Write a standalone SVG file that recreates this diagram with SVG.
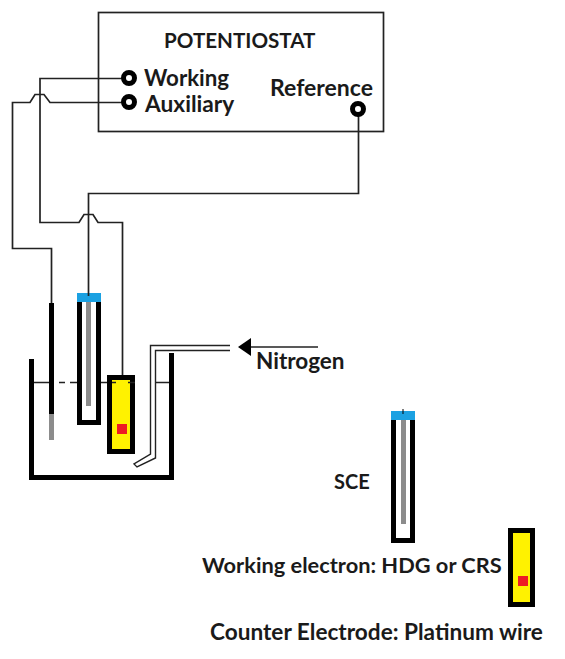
<svg xmlns="http://www.w3.org/2000/svg" width="565" height="659" viewBox="0 0 565 659">
<style>
text{font-family:"Lato","Open Sans",sans-serif;font-weight:700;fill:#1a1a1a}
.w{fill:none;stroke:#222;stroke-width:1.700}
.t{fill:none;stroke:#222;stroke-width:1.400}
.term{fill:#fff;stroke:#000;stroke-width:5}
.k{fill:#000}
.g{fill:#8c8c8c}
.b{fill:#1ba1e2}
.y{fill:#fff200;stroke:#000;stroke-width:5}
.r{fill:#ed1c24}
.s{fill:#fff;stroke:#000;stroke-width:5}
.d{fill:none;stroke:#222;stroke-width:1.700}
</style>
<rect width="565" height="659" fill="#fff"/>
<g id="potentiostat">
<rect x="98.500" y="12.500" width="285" height="119" fill="#fff" stroke="#222" stroke-width="1.700"/>
<text x="164" y="48" style="font-size:20.600px">POTENTIOSTAT</text>
<text x="144" y="86" style="font-size:22.300px">Working</text>
<text x="145" y="112" style="font-size:22.700px">Auxiliary</text>
<text x="270" y="96" style="font-size:23px">Reference</text>
</g>
<g id="connectors">
<path class="w" d="M122 78.500H40V222.500H79L84 214.500H93L98 222.500H122.500V376"/>
<path class="w" d="M122 102.500H50L44 94.500H35L30 102.500H12.500V248.500H51.500V304"/>
<path class="w" d="M358.500 114V193.500H88.500V297"/>
<path class="w" d="M318 347H250"/>
</g>
<g id="terminals">
<circle class="term" cx="129" cy="78" r="5.500"/>
<circle class="term" cx="129" cy="102" r="5.500"/>
<circle class="term" cx="358" cy="109" r="5.500"/>
</g>
<g id="beaker">
<path d="M31.500 359V477.500H171.500V353" fill="none" stroke="#000" stroke-width="5"/>
<path class="d" d="M34 382.500H50M59 382.500H65M70 382.500H77M101 382.500H107M155 382.500H169"/>
</g>
<g id="aux-electrode">
<rect class="k" x="49" y="303" width="5" height="111"/>
<rect class="g" x="49" y="414" width="5" height="26"/>
</g>
<g id="sce-cell">
<path class="s" d="M79.500 302V422.500H98.500V302"/>
<rect class="g" x="86" y="302" width="5" height="104"/>
<rect class="b" x="77" y="293" width="24" height="9"/>
<path class="w" d="M88.500 293V296"/>
</g>
<g id="working-cell">
<rect class="y" x="109.500" y="377.500" width="23" height="74"/>
<rect class="r" x="117" y="424" width="10" height="10"/>
<path class="d" d="M112 382.500H116M128 382.500H135"/>
</g>
<g id="nitrogen">
<path class="t" d="M230 345.500H150.500V454L134 464L137 467L155.500 458V350.500H230"/>
<path class="k" d="M238 347L251 338V356Z"/>
<text x="256" y="369" style="font-size:22.500px">Nitrogen</text>
</g>
<g id="sce-legend">
<path class="s" d="M393.500 420V540.500H412.500V420"/>
<rect class="g" x="401" y="420" width="5" height="104"/>
<rect class="b" x="391" y="411" width="24" height="9"/>
<path d="M403 409V414" stroke="#000" stroke-width="1" fill="none"/>
<text x="334" y="489" style="font-size:20px">SCE</text>
</g>
<g id="working-legend">
<rect class="y" x="510.500" y="530.500" width="22" height="74"/>
<rect class="r" x="518" y="576" width="10" height="10"/>
<text x="202" y="573" style="font-size:21.800px">Working electron: HDG or CRS</text>
</g>
<g id="counter-legend">
<text x="210" y="640" style="font-size:22.600px">Counter Electrode: Platinum wire</text>
</g>
</svg>
